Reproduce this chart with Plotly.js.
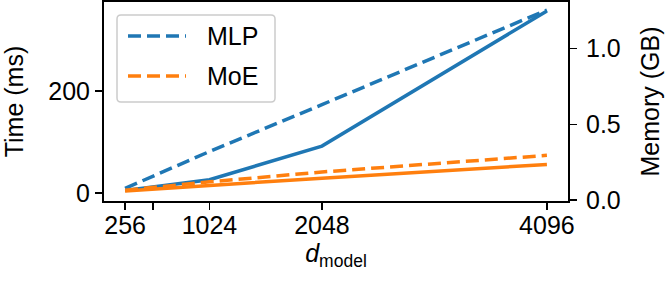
<!DOCTYPE html>
<html><head><meta charset="utf-8">
<script src="https://cdn.plot.ly/plotly-3.0.1.min.js"></script>
<style>html,body{margin:0;padding:0;background:#fff}#chart{width:665px;height:285px}</style>
</head><body><div id="chart"></div>
<script>
const dModel = [256, 1024, 2048, 4096];
const tickValues = [256, 1024, 2048, 4096];
const tickLabels = ['256', '1024', '2048', '4096'];
const minorTickValues = [512];
const mlpTimeMs = [5, 26, 92, 357];
const moeTimeMs = [4, 15, 29, 56];
const mlpMemoryGB = [0.077, 0.32, 0.63, 1.255];
const moeMemoryGB = [0.065, 0.12, 0.185, 0.295];
const seriesNames = ['MLP', 'MoE'];
const seriesColors = ['#1f77b4', '#ff7f0e'];

const FONT = '"Liberation Sans", Arial, Helvetica, sans-serif';
const FS = 25;
const LW = 3.5;
const DASH = '13px,6px';

const traces = [
  {x: dModel, y: mlpTimeMs, yaxis: 'y', mode: 'lines', name: seriesNames[0] + ' time',
   line: {color: seriesColors[0], width: LW}, showlegend: false},
  {x: dModel, y: moeTimeMs, yaxis: 'y', mode: 'lines', name: seriesNames[1] + ' time',
   line: {color: seriesColors[1], width: LW}, showlegend: false},
  {x: dModel, y: mlpMemoryGB, yaxis: 'y2', mode: 'lines', name: seriesNames[0] + ' memory',
   line: {color: seriesColors[0], width: LW, dash: DASH}, showlegend: false},
  {x: dModel, y: moeMemoryGB, yaxis: 'y2', mode: 'lines', name: seriesNames[1] + ' memory',
   line: {color: seriesColors[1], width: LW, dash: DASH}, showlegend: false}
];

// Plot area in pixels
const W = 665, H = 285, L = 104, R = 568, T = 2, B = 201;
const px = v => (v - L) / (R - L);
const py = v => 1 - (v - T) / (B - T);

function roundRect(x0, y0, x1, y1, r) {
  const rx = r / (R - L), ry = r / (B - T);
  const a = px(x0), b = px(x1), c = py(y1), d = py(y0);
  return `M${a + rx},${c} L${b - rx},${c} Q${b},${c} ${b},${c + ry} L${b},${d - ry} Q${b},${d} ${b - rx},${d} L${a + rx},${d} Q${a},${d} ${a},${d - ry} L${a},${c + ry} Q${a},${c} ${a + rx},${c} Z`;
}

const shapes = [
  {type: 'path', xref: 'paper', yref: 'paper', path: roundRect(117, 15, 275, 102, 4),
   line: {color: '#cccccc', width: 1.5}, fillcolor: 'rgba(255,255,255,0.8)', layer: 'above'}
];
const annotations = [];
const legendRows = [36, 76];
seriesNames.forEach((n, i) => {
  shapes.push({type: 'line', xref: 'paper', yref: 'paper', x0: px(128), x1: px(186),
    y0: py(legendRows[i]), y1: py(legendRows[i]),
    line: {color: seriesColors[i], width: LW, dash: DASH}, layer: 'above'});
  annotations.push({xref: 'paper', yref: 'paper', x: px(205), y: py(legendRows[i]),
    xanchor: 'left', yanchor: 'middle', text: n, showarrow: false,
    font: {family: FONT, size: FS, color: '#000'}});
});

const axisCommon = {
  showgrid: false, zeroline: false, showline: true, linecolor: '#000', linewidth: 2,
  ticks: 'outside', ticklen: 7, tickwidth: 1.6, tickcolor: '#000',
  tickfont: {family: FONT, size: FS, color: '#000'}
};

const layout = {
  width: W, height: H,
  margin: {l: L, r: W - R, t: T, b: H - B, pad: 0},
  paper_bgcolor: '#fff', plot_bgcolor: '#fff',
  font: {family: FONT, size: FS, color: '#000'},
  showlegend: false,
  xaxis: Object.assign({}, axisCommon, {
    range: [64, 4288], tickmode: 'array', tickvals: tickValues, ticktext: tickLabels, mirror: true,
    ticklabelstandoff: -6,
    minor: {tickmode: 'array', tickvals: minorTickValues, ticks: 'outside', ticklen: 7, tickwidth: 1.6, tickcolor: '#000', showgrid: false},
    title: {text: '<i>d</i><sub>model</sub>', font: {family: FONT, size: FS, color: '#000'}, standoff: 2}
  }),
  yaxis: Object.assign({}, axisCommon, {
    range: [-15.7, 374.5], tickvals: [0, 200], mirror: true,
    title: {text: 'Time (ms)', font: {family: FONT, size: FS, color: '#000'}, standoff: 21}
  }),
  yaxis2: Object.assign({}, axisCommon, {
    range: [-0.0066, 1.308], tickvals: [0, 0.5, 1.0], ticktext: ['0.0', '0.5', '1.0'],
    overlaying: 'y', side: 'right', ticklabelstandoff: 4,
    title: {text: 'Memory (GB)', font: {family: FONT, size: FS, color: '#000'}, standoff: 22}
  }),
  shapes: shapes,
  annotations: annotations
};

Plotly.newPlot('chart', traces, layout, {displayModeBar: false, staticPlot: true});
</script>
</body></html>
